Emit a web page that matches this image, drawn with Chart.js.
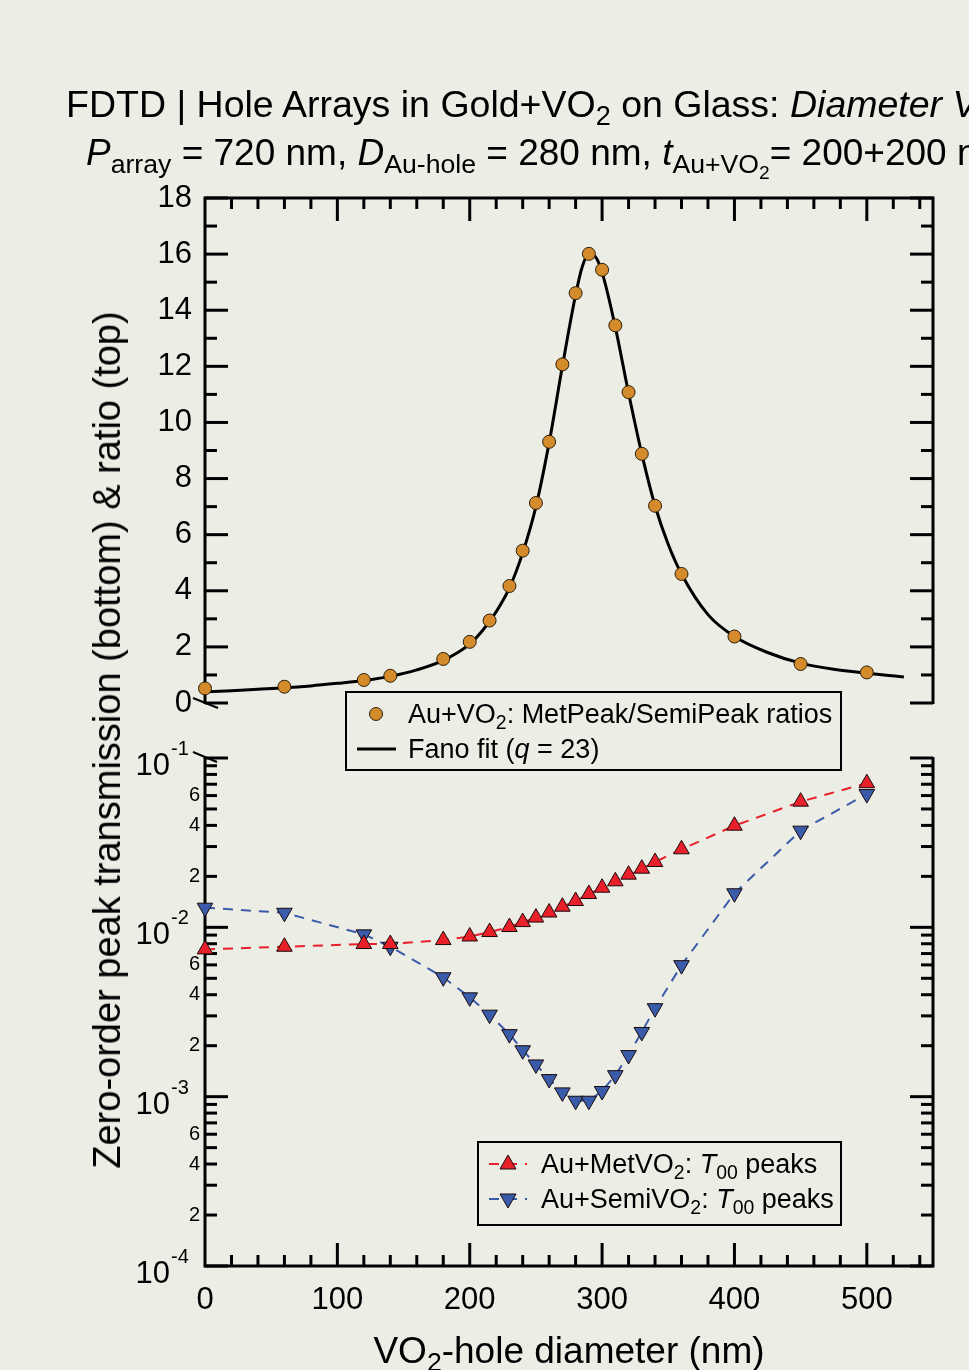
<!DOCTYPE html>
<html><head><meta charset="utf-8">
<script src="https://cdn.jsdelivr.net/npm/chart.js@4.4.0/dist/chart.umd.min.js"></script>
<style>
html,body{margin:0;padding:0;}
body{width:969px;height:1370px;overflow:hidden;background:#ECEDE5;position:relative;font-family:'Liberation Sans',Arial,sans-serif;color:#000;}
canvas{position:absolute;left:0;top:0;}
.t{position:absolute;white-space:nowrap;}
sub{font-size:0.72em;vertical-align:-0.3em;line-height:0;}
.box{position:absolute;box-sizing:border-box;border:2px solid #000;background:#ECEDE5;}
</style></head><body>
<canvas id="cTop" width="969" height="1370"></canvas>
<canvas id="cBot" width="969" height="1370"></canvas>

<div class="t" style="left:66px;top:86px;font-size:37.5px;line-height:37px;">FDTD | Hole Arrays in Gold+VO<sub>2</sub> on Glass: <i>Diameter V</i></div>
<div class="t" style="left:86px;top:134px;font-size:37px;line-height:37px;"><i>P</i><sub>array</sub> = 720 nm, <i>D</i><sub>Au-hole</sub> = 280 nm, <i>t</i><sub>Au+VO<sub>2</sub></sub>= 200+200 nm</div>

<div class="t" style="left:107px;top:740px;font-size:38px;line-height:38px;transform:translate(-50%,-50%) rotate(-90deg);">Zero-order peak transmission (bottom) &amp; ratio (top)</div>
<div class="t" style="left:569px;top:1332px;font-size:37px;line-height:37px;transform:translateX(-50%);">VO<sub>2</sub>-hole diameter (nm)</div>

<div class="box" style="left:345px;top:691px;width:497px;height:80px;"></div>
<div class="box" style="left:477px;top:1141px;width:365px;height:85px;"></div>
<svg style="position:absolute;left:0;top:0;" width="969" height="1370">
  <circle cx="376" cy="714" r="6.5" fill="#D38B2C" stroke="#2b1d08" stroke-width="1"/>
  <line x1="357" y1="749" x2="396" y2="749" stroke="#000" stroke-width="3"/>
  <line x1="489" y1="1164" x2="527" y2="1164" stroke="#E8202A" stroke-width="2" stroke-dasharray="10,8"/>
  <polygon points="508,1155 516,1169 500,1169" fill="#E8202A" stroke="#1a0a0a" stroke-width="1"/>
  <line x1="489" y1="1199" x2="527" y2="1199" stroke="#3A5BAA" stroke-width="2" stroke-dasharray="10,8"/>
  <polygon points="508,1208 516,1194 500,1194" fill="#3A5BAA" stroke="#1a0a0a" stroke-width="1"/>
</svg>
<div class="t" style="left:408px;top:701px;font-size:27px;line-height:27px;">Au+VO<sub>2</sub>: MetPeak/SemiPeak ratios</div>
<div class="t" style="left:408px;top:736px;font-size:27px;line-height:27px;">Fano fit (<i>q</i> = 23)</div>
<div class="t" style="left:541px;top:1151px;font-size:27px;line-height:27px;">Au+MetVO<sub>2</sub>: <i>T</i><sub>00</sub> peaks</div>
<div class="t" style="left:541px;top:1186px;font-size:27px;line-height:27px;">Au+SemiVO<sub>2</sub>: <i>T</i><sub>00</sub> peaks</div>

<script>
// ---- data ----
const diameters = [0,60,120,140,180,200,215,230,240,250,260,270,280,290,300,310,320,330,340,360,400,450,500];
const ratioValues = [0.52,0.58,0.82,0.97,1.57,2.18,2.94,4.17,5.43,7.13,9.31,12.07,14.61,16.01,15.44,13.46,11.08,8.88,7.03,4.60,2.37,1.39,1.09];
const fanoX = [0,20,40,60,80,100,120,140,160,180,200,210,220,230,240,250,260,270,280,285,290,295,300,310,320,330,340,350,360,380,400,425,450,475,500,528];
const fanoY = [0.40,0.44,0.49,0.54,0.61,0.70,0.80,0.95,1.18,1.52,2.10,2.60,3.25,4.10,5.35,7.00,9.28,12.0,14.55,15.55,16.0,15.9,15.35,13.4,11.05,8.88,7.03,5.65,4.60,3.15,2.37,1.80,1.42,1.20,1.06,0.93];
const metPeaks = [0.00741,0.00768,0.00797,0.00797,0.00841,0.00883,0.00938,0.01004,0.01074,0.01142,0.01223,0.01324,0.01430,0.01573,0.01714,0.01870,0.02047,0.02220,0.02431,0.02890,0.03983,0.05522,0.07098];
const semiPeaks = [0.01306,0.01219,0.00909,0.00768,0.00507,0.00386,0.00305,0.00234,0.00188,0.00155,0.00127,0.00106,0.000946,0.000946,0.00108,0.00134,0.00176,0.00241,0.00333,0.00598,0.01589,0.03724,0.06125];
const xTickValues = [0,100,200,300,400,500];
const yTopTickValues = [0,2,4,6,8,10,12,14,16,18];
const logLabelledMinor = [2e-4,4e-4,6e-4,2e-3,4e-3,6e-3,2e-2,4e-2,6e-2];
const logLabelledMinorText = ['2','4','6','2','4','6','2','4','6'];
const decadeTicks = [1e-4,1e-3,1e-2,1e-1];
const decadeExponents = ['-4','-3','-2','-1'];

const FONT = "'Liberation Sans', Arial, sans-serif";
Chart.defaults.font.family = FONT;
Chart.defaults.color = '#000';

const pts = (xs, ys) => xs.map((x, i) => ({x, y: ys[i]}));

function strokeLine(ctx, x1, y1, x2, y2) { ctx.beginPath(); ctx.moveTo(x1, y1); ctx.lineTo(x2, y2); ctx.stroke(); }

const frameTop = {
  id: 'frameTop',
  beforeDatasetsDraw(chart) {
    const ctx = chart.ctx, a = chart.chartArea, xs = chart.scales.x, ys = chart.scales.y;
    ctx.save();
    ctx.strokeStyle = '#000'; ctx.lineWidth = 3; ctx.lineCap = 'butt'; ctx.lineJoin = 'miter';
    ctx.beginPath(); ctx.moveTo(a.left, a.bottom + 1); ctx.lineTo(a.left, a.top); ctx.lineTo(a.right, a.top); ctx.lineTo(a.right, a.bottom + 1); ctx.stroke();
    for (let v = 0; v <= 18; v++) {
      const y = ys.getPixelForValue(v), len = v % 2 === 0 ? 23 : 12;
      strokeLine(ctx, a.left, y, a.left + len, y);
      strokeLine(ctx, a.right, y, a.right - len, y);
    }
    for (let v = 20; v < 550; v += 20) {
      const x = xs.getPixelForValue(v), len = v % 100 === 0 ? 23 : 11;
      strokeLine(ctx, x, a.top, x, a.top + len);
    }
    ctx.lineWidth = 2;
    strokeLine(ctx, a.left - 12, a.bottom - 5, a.left + 13, a.bottom + 5);
    ctx.restore();
  }
};

const frameBot = {
  id: 'frameBot',
  beforeDatasetsDraw(chart) {
    const ctx = chart.ctx, a = chart.chartArea, xs = chart.scales.x, ys = chart.scales.y;
    ctx.save();
    ctx.strokeStyle = '#000'; ctx.lineWidth = 3; ctx.lineCap = 'butt'; ctx.lineJoin = 'miter';
    ctx.beginPath(); ctx.moveTo(a.left, a.top - 1); ctx.lineTo(a.left, a.bottom); ctx.lineTo(a.right, a.bottom); ctx.lineTo(a.right, a.top - 1); ctx.stroke();
    for (let e = -4; e <= -1; e++) {
      for (let k = 1; k <= 9; k++) {
        const v = k * Math.pow(10, e);
        if (v > 0.1000001) break;
        const y = ys.getPixelForValue(v), len = k === 1 ? 23 : 12;
        strokeLine(ctx, a.left, y, a.left + len, y);
        strokeLine(ctx, a.right, y, a.right - len, y);
      }
    }
    for (let v = 20; v < 550; v += 20) {
      const x = xs.getPixelForValue(v), len = v % 100 === 0 ? 23 : 11;
      strokeLine(ctx, x, a.bottom, x, a.bottom - len);
    }
    ctx.lineWidth = 2;
    strokeLine(ctx, a.left - 12, a.top - 6, a.left + 12, a.top + 4);
    ctx.restore();
  },
  afterDraw(chart) {
    const ctx = chart.ctx, ys = chart.scales.y, a = chart.chartArea;
    ctx.save(); ctx.fillStyle = '#000';
    decadeTicks.forEach((v, i) => {
      const y = ys.getPixelForValue(v);
      ctx.font = '31px ' + FONT; ctx.textAlign = 'right'; ctx.textBaseline = 'alphabetic';
      ctx.fillText('10', a.left - 35, y + 17);
      ctx.font = '20px ' + FONT; ctx.textAlign = 'left';
      ctx.fillText(decadeExponents[i], a.left - 34, y - 3);
    });
    ctx.restore();
  }
};

new Chart(document.getElementById('cTop'), {
  type: 'scatter',
  data: { datasets: [
    { label: 'Au+VO2: MetPeak/SemiPeak ratios', data: pts(diameters, ratioValues), showLine: false,
      pointStyle: 'circle', pointRadius: 6.5, backgroundColor: '#D38B2C', borderColor: '#2b1d08', borderWidth: 1, clip: false },
    { label: 'Fano fit (q = 23)', data: pts(fanoX, fanoY), showLine: true, pointRadius: 0,
      borderColor: '#000', borderWidth: 3, cubicInterpolationMode: 'monotone', clip: false }
  ]},
  options: {
    responsive: false, animation: false, devicePixelRatio: 1, events: [],
    layout: { padding: { left: 0, right: 36, top: 198, bottom: 1370 - 703 } },
    plugins: { legend: { display: false }, tooltip: { enabled: false } },
    scales: {
      x: { type: 'linear', min: 0, max: 550, display: false },
      y: { type: 'linear', min: 0, max: 18, position: 'left',
        afterFit: s => { s.width = 205; },
        afterBuildTicks: s => { s.ticks = yTopTickValues.map(v => ({ value: v })); },
        grid: { display: false, drawTicks: false }, border: { display: false },
        ticks: { font: { size: 31 }, color: '#000', padding: 13, autoSkip: false } }
    }
  },
  plugins: [frameTop]
});

new Chart(document.getElementById('cBot'), {
  type: 'scatter',
  data: { datasets: [
    { label: 'Au+MetVO2: T00 peaks', data: pts(diameters, metPeaks), showLine: true,
      borderColor: '#E8202A', borderWidth: 2, borderDash: [10, 8],
      pointStyle: 'triangle', pointRadius: 9, pointBackgroundColor: '#E8202A', pointBorderColor: '#1a0a0a', pointBorderWidth: 1, clip: false },
    { label: 'Au+SemiVO2: T00 peaks', data: pts(diameters, semiPeaks), showLine: true,
      borderColor: '#3A5BAA', borderWidth: 2, borderDash: [10, 8],
      pointStyle: 'triangle', pointRotation: 180, pointRadius: 9, pointBackgroundColor: '#3A5BAA', pointBorderColor: '#1a0a0a', pointBorderWidth: 1, clip: false }
  ]},
  options: {
    responsive: false, animation: false, devicePixelRatio: 1, events: [],
    layout: { padding: { left: 0, right: 36, top: 758, bottom: 0 } },
    plugins: { legend: { display: false }, tooltip: { enabled: false } },
    scales: {
      x: { type: 'linear', min: 0, max: 550, position: 'bottom',
        afterFit: s => { s.height = 1370 - 1266; },
        afterBuildTicks: s => { s.ticks = xTickValues.map(v => ({ value: v })); },
        grid: { display: false, drawTicks: false }, border: { display: false },
        ticks: { font: { size: 31 }, color: '#000', padding: 16, autoSkip: false, maxRotation: 0 } },
      y: { type: 'logarithmic', min: 1e-4, max: 1e-1, position: 'left',
        afterFit: s => { s.width = 205; },
        afterBuildTicks: s => { s.ticks = logLabelledMinor.map(v => ({ value: v })); },
        grid: { display: false, drawTicks: false }, border: { display: false },
        ticks: { font: { size: 20 }, color: '#000', padding: 5, autoSkip: false,
          callback: (v, i) => logLabelledMinorText[i] } }
    }
  },
  plugins: [frameBot]
});
</script>
</body></html>
